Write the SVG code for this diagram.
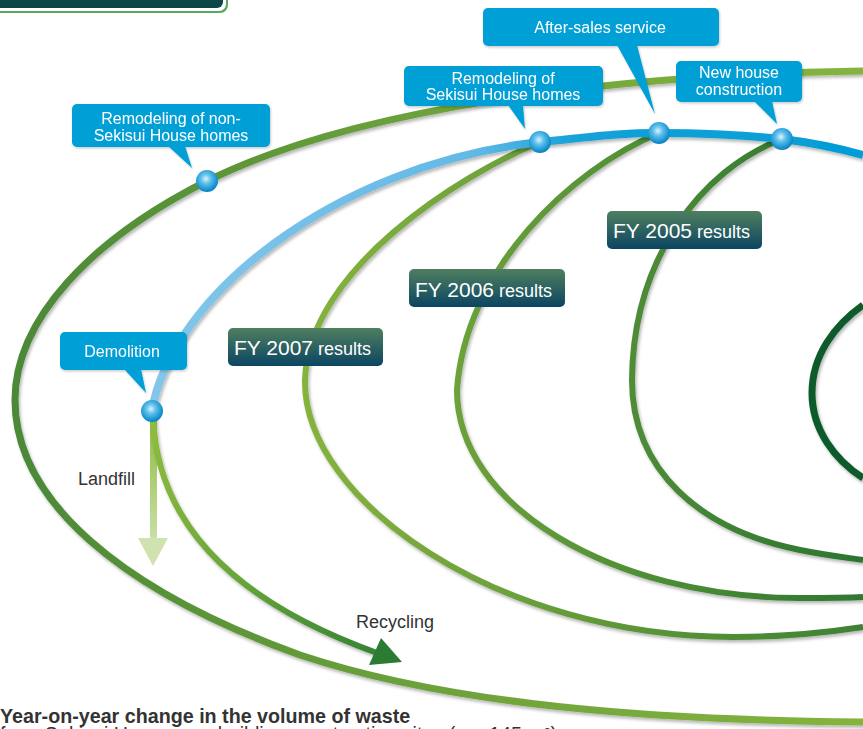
<svg xmlns="http://www.w3.org/2000/svg" width="863" height="729" viewBox="0 0 863 729">
<defs>
<style>
text{font-family:"Liberation Sans",Arial,Helvetica,sans-serif;}
.curve{fill:none;filter:url(#sh);}
.co rect,.co polygon{fill:#059fd6;}
.co{filter:url(#sh2);}
.co text{fill:#ffffff;font-size:16px;text-anchor:middle;}
.fy rect{fill:url(#fyg);}
.fy text{fill:#ffffff;}
.node{fill:url(#ball);}
.plain{fill:#333333;font-size:18px;}
</style>
<filter id="sh" filterUnits="userSpaceOnUse" x="0" y="0" width="863" height="729">
<feDropShadow dx="1.5" dy="2.5" stdDeviation="1.5" flood-color="#000" flood-opacity="0.28"/>
</filter>
<filter id="sh2" x="-10%" y="-10%" width="125%" height="130%">
<feDropShadow dx="1" dy="1.5" stdDeviation="1.2" flood-color="#000" flood-opacity="0.2"/>
</filter>
<linearGradient id="gOuter" gradientUnits="userSpaceOnUse" x1="0" y1="0" x2="863" y2="0">
<stop offset="0" stop-color="#4a8737"/><stop offset="0.45" stop-color="#6aa03a"/><stop offset="1" stop-color="#85b43e"/>
</linearGradient>
<linearGradient id="gBlue" gradientUnits="userSpaceOnUse" x1="150" y1="0" x2="863" y2="0">
<stop offset="0" stop-color="#84c6ea"/><stop offset="0.45" stop-color="#64b9e6"/><stop offset="0.6" stop-color="#14a1d8"/><stop offset="1" stop-color="#049dd6"/>
</linearGradient>
<linearGradient id="g07" gradientUnits="userSpaceOnUse" x1="300" y1="0" x2="863" y2="0">
<stop offset="0" stop-color="#86b33e"/><stop offset="0.4" stop-color="#6a9f3a"/><stop offset="1" stop-color="#3d8233"/>
</linearGradient>
<linearGradient id="g06" gradientUnits="userSpaceOnUse" x1="450" y1="0" x2="863" y2="0">
<stop offset="0" stop-color="#6da23a"/><stop offset="1" stop-color="#2e7830"/>
</linearGradient>
<linearGradient id="g05" gradientUnits="userSpaceOnUse" x1="630" y1="0" x2="863" y2="0">
<stop offset="0" stop-color="#4f8c37"/><stop offset="1" stop-color="#2a7530"/>
</linearGradient>
<linearGradient id="gRec" gradientUnits="userSpaceOnUse" x1="153" y1="415" x2="400" y2="660">
<stop offset="0" stop-color="#8fbd3d"/><stop offset="0.5" stop-color="#6aa53a"/><stop offset="1" stop-color="#2f7f33"/>
</linearGradient>
<linearGradient id="gLand" gradientUnits="userSpaceOnUse" x1="0" y1="415" x2="0" y2="566">
<stop offset="0" stop-color="#8cbb3e"/><stop offset="1" stop-color="#d6e7bd"/>
</linearGradient>
<linearGradient id="fyg" x1="0" y1="0" x2="0" y2="1">
<stop offset="0" stop-color="#4f7f5f"/><stop offset="1" stop-color="#0b4562"/>
</linearGradient>
<linearGradient id="titleg" x1="0" y1="0" x2="0" y2="1">
<stop offset="0" stop-color="#124f4f"/><stop offset="1" stop-color="#0b4646"/>
</linearGradient>
<radialGradient id="ball" cx="0.45" cy="0.4" r="0.62">
<stop offset="0" stop-color="#dff3fc"/><stop offset="0.35" stop-color="#62c1ec"/><stop offset="0.8" stop-color="#1794d0"/><stop offset="1" stop-color="#0a7cb8"/>
</radialGradient>
</defs>

<rect width="863" height="729" fill="#ffffff"/>

<g id="connectors">
<path id="outer" class="curve" stroke="url(#gOuter)" stroke-width="7" d="M863,71 C600,75 350,110 207,181 C90,240 15,320 15,400 C15,500 120,590 300,655 C450,705 650,720 863,722"/>
<path id="fy2005-curve" class="curve" stroke="url(#g05)" stroke-width="6" d="M782,139 C700,170 633,260 632,380 C632,470 700,530 800,550 C830,556 850,558 863,560"/>
<path id="fy2006-curve" class="curve" stroke="url(#g06)" stroke-width="6" d="M659,133 C570,170 465,270 457,390 C457,505 611,598 800,598 C825,598 845,598 863,597"/>
<path id="fy2007-curve" class="curve" stroke="url(#g07)" stroke-width="6" d="M540,142 C460,175 308,270 305,380 C303,500 498,637 733,637 C790,637 830,632 863,627"/>
<path id="inner" class="curve" stroke="#0e5a2a" stroke-width="7" d="M863,305 C835,325 812,355 812,393 C812,430 835,460 863,478"/>
<path id="blue" class="curve" stroke="url(#gBlue)" stroke-width="8" d="M152,411 C170,300 330,165 540,142 C600,136 620,133 659,133 C700,133 745,135 782,139 C815,143 845,150 863,155"/>
<g id="landfill-arrow">
<rect x="150" y="416" width="7" height="124" fill="url(#gLand)"/>
<polygon points="138,538 168,538 153,566" fill="#d0e2b0"/>
</g>
<g id="recycling-arrow">
<path class="curve" stroke="url(#gRec)" stroke-width="6" d="M153,415 C156,520 230,600 377,653"/>
<polygon points="381,638 402,662 369,665" fill="#2b7c32"/>
</g>
</g>

<g id="node-non-sekisui"><circle class="node" cx="207" cy="181" r="11"/></g>
<g id="node-sekisui"><circle class="node" cx="540" cy="142" r="11"/></g>
<g id="node-aftersales"><circle class="node" cx="659" cy="133" r="11"/></g>
<g id="node-newhouse"><circle class="node" cx="782" cy="139" r="11"/></g>
<g id="node-demolition"><circle class="node" cx="152" cy="411" r="11"/></g>

<g id="fy2007" class="fy">
<rect x="228" y="328" width="155" height="38" rx="5"/>
<text x="234" y="355"><tspan font-size="21">FY 2007</tspan><tspan font-size="18"> results</tspan></text>
</g>
<g id="fy2006" class="fy">
<rect x="409" y="269" width="156" height="38" rx="5"/>
<text x="415" y="297"><tspan font-size="21">FY 2006</tspan><tspan font-size="18"> results</tspan></text>
</g>
<g id="fy2005" class="fy">
<rect x="607" y="211" width="155" height="38" rx="5"/>
<text x="613" y="238"><tspan font-size="21">FY 2005</tspan><tspan font-size="18"> results</tspan></text>
</g>

<g id="callout-non-sekisui" class="co">
<rect x="72" y="104" width="198" height="43" rx="5"/>
<polygon points="168,146 185,146 192,168"/>
<text x="171" y="124">Remodeling of non-</text>
<text x="171" y="141">Sekisui House homes</text>
</g>
<g id="callout-sekisui" class="co">
<rect x="404" y="66" width="199" height="40" rx="5"/>
<polygon points="508,105 523,105 525,129"/>
<text x="503" y="84">Remodeling of</text>
<text x="503" y="100">Sekisui House homes</text>
</g>
<g id="callout-aftersales" class="co">
<rect x="483" y="8" width="236" height="38" rx="5"/>
<polygon points="617,45 637,45 655,114"/>
<text x="600" y="33">After-sales service</text>
</g>
<g id="callout-newhouse" class="co">
<rect x="676" y="61" width="126" height="41" rx="5"/>
<polygon points="754,101 772,101 777,124"/>
<text x="739" y="78">New house</text>
<text x="739" y="95">construction</text>
</g>
<g id="callout-demolition" class="co">
<rect x="60" y="332" width="127" height="38" rx="5"/>
<polygon points="124,369 141,369 146,393"/>
<text x="122" y="357">Demolition</text>
</g>

<g id="label-landfill"><text class="plain" x="78" y="485">Landfill</text></g>
<g id="label-recycling"><text class="plain" x="356" y="628">Recycling</text></g>

<g id="title-box">
<rect x="-12" y="-20" width="240" height="33" rx="8" fill="#5aaa5c"/>
<rect x="-12" y="-20" width="238" height="31" rx="7" fill="#ffffff"/>
<rect x="-12" y="-20" width="235" height="28" rx="6" fill="url(#titleg)"/>
</g>

<g id="caption">
<text x="0" y="723" font-size="19.7" font-weight="bold" fill="#333333">Year-on-year change in the volume of waste</text>
<text x="0" y="741" font-size="19.7" fill="#333333">from Sekisui House new building construction sites (per 145 m²)</text>
</g>
</svg>
